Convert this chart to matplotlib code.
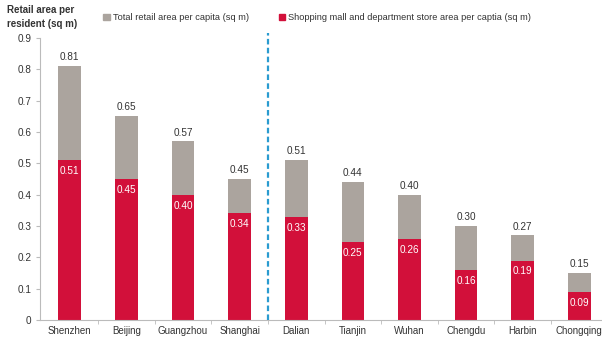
import matplotlib.pyplot as plt
from matplotlib.patches import Patch

cities = ["Shenzhen", "Beijing", "Guangzhou", "Shanghai", "Dalian",
          "Tianjin", "Wuhan", "Chengdu", "Harbin", "Chongqing"]
total_retail = [0.81, 0.65, 0.57, 0.45, 0.51, 0.44, 0.40, 0.30, 0.27, 0.15]
mall_store = [0.51, 0.45, 0.40, 0.34, 0.33, 0.25, 0.26, 0.16, 0.19, 0.09]
yticks = [0, 0.1, 0.2, 0.3, 0.4, 0.5, 0.6, 0.7, 0.8, 0.9]

RED = "#D2103A"
GREY = "#ABA49E"
TXT = "#333333"

plt.rcParams["font.family"] = ["Liberation Sans", "DejaVu Sans"]

fig = plt.figure(figsize=(6.02, 3.38), dpi=100)
ax = fig.add_axes([0.066, 0.053, 0.934, 0.835])

x = list(range(len(cities)))
upper = [t - m for t, m in zip(total_retail, mall_store)]
ax.bar(x, mall_store, width=0.4, color=RED, zorder=2)
ax.bar(x, upper, bottom=mall_store, width=0.4, color=GREY, zorder=2)

for i, (t, m) in enumerate(zip(total_retail, mall_store)):
    ax.text(i, t + 0.012, f"{t:.2f}", ha="center", va="bottom",
            fontsize=7.2, color=TXT)
    ax.text(i, m - 0.035, f"{m:.2f}", ha="center", va="center",
            fontsize=7.2, color="white")

# divider between tier-1 and other cities
ax.plot([3.5, 3.5], [0, 0.915], color="#2A9BD0", lw=1.6,
        linestyle=(0, (2.5, 1.5)), clip_on=False, zorder=3)

ax.set_xlim(-0.53, 9.4)
ax.set_ylim(0, 0.9)
ax.set_yticks(yticks)
ax.set_yticklabels([f"{v:g}" for v in yticks], fontsize=7.2, color=TXT)
ax.set_xticks(x)
ax.set_xticklabels(cities, fontsize=7, color=TXT)
ax.tick_params(axis="x", length=0, pad=4)
ax.set_xticks([i + 0.5 for i in x[:-1]], minor=True)
ax.tick_params(axis="x", which="minor", length=3, color="#BBBBBB")
ax.tick_params(axis="y", length=3, color="#BBBBBB", pad=3)

for side in ["top", "right"]:
    ax.spines[side].set_visible(False)
ax.spines["left"].set_color("#BBBBBB")
ax.spines["bottom"].set_color("#BBBBBB")

fig.text(0.012, 0.985, "Retail area per\nresident (sq m)", fontsize=7,
         fontweight="bold", color=TXT, va="top", ha="left", linespacing=1.45)

handles = [Patch(color=GREY), Patch(color=RED)]
labels = ["Total retail area per capita (sq m)",
          "Shopping mall and department store area per captia (sq m)"]
fig.legend(handles, labels, loc="upper left", bbox_to_anchor=(0.158, 0.985),
           ncol=2, frameon=False, fontsize=6.7, handlelength=0.7,
           handleheight=0.7, handletextpad=0.3, columnspacing=3.2,
           labelcolor=TXT)

fig.savefig("out.png", dpi=100)
